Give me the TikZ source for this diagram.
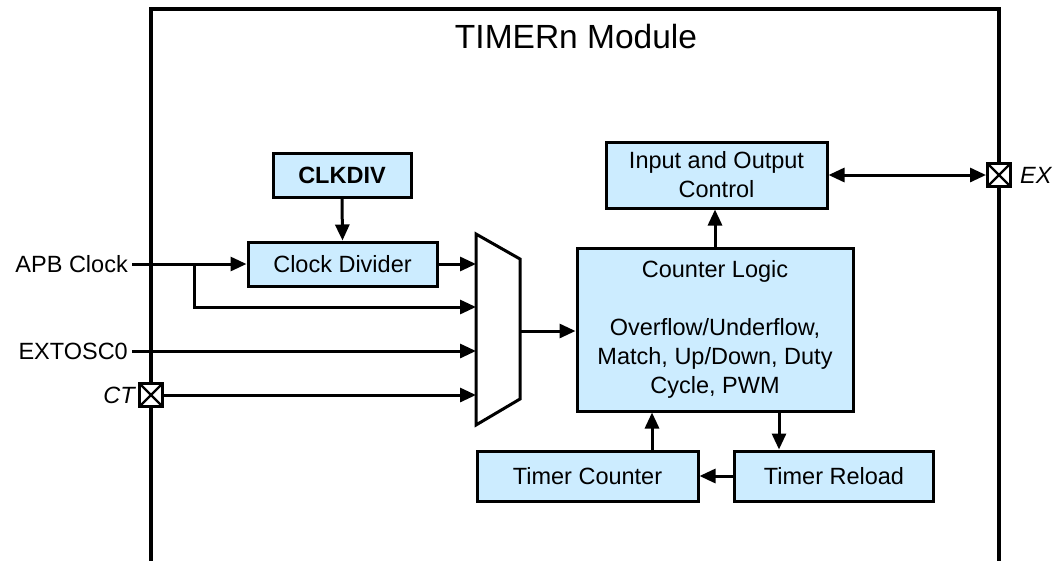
\documentclass[tikz,border=0pt]{standalone}
\usepackage{fontspec}
\setmainfont{Liberation Sans}
\usetikzlibrary{arrows.meta,positioning}
\definecolor{blkfill}{RGB}{204,236,255}

\begin{document}
\begin{tikzpicture}[x=1pt, y=-1pt,
        font=\fontsize{23.5}{29}\selectfont,
        blk/.style={draw, rectangle, fill=blkfill, line width=3pt, align=center, inner sep=0pt},
        arr/.style={-{Triangle[length=16pt, width=14pt]}, line width=3pt},
        pin/.style={draw, rectangle, fill=white, line width=3pt, minimum size=23pt, inner sep=0pt,
            path picture={\draw[line width=2.2pt] (path picture bounding box.north west) -- (path picture bounding box.south east)
                (path picture bounding box.north east) -- (path picture bounding box.south west);}}]
        \useasboundingbox (0,0) rectangle (1054,560);

        % module frame
        \draw[line width=3.2pt] (151,565) -- (151,9) -- (999,9) -- (999,565);
        \node (title) at (576,37) {\fontsize{33.5}{38}\selectfont TIMERn Module};

        % blocks
        \node[blk, minimum width=138pt, minimum height=44pt] (clkdiv) at (342,175) {\textbf{CLKDIV}};
        \node[blk, minimum width=189pt, minimum height=44pt] (clockdiv) at (342.5,264) {Clock Divider};
        \node[blk, minimum width=221pt, minimum height=66pt] (iocontrol) at (716.5,175) {Input and Output\\Control};
        \node[blk, minimum width=276pt, minimum height=163pt] (counter) at (715,329.5)
            {Counter Logic\\[29pt]Overflow/Underflow,\\Match, Up/Down, Duty\\Cycle, PWM};
        \node[blk, minimum width=221pt, minimum height=50pt] (tcounter) at (587.5,476) {Timer Counter};
        \node[blk, minimum width=199pt, minimum height=50pt] (treload) at (834,476) {Timer Reload};

        % mux
        \draw[line width=3pt, fill=white] (476,234) -- (520,259) -- (520,399) -- (476,425) -- cycle;
        \coordinate (muxa) at (476,264);
        \coordinate (muxb) at (476,307);
        \coordinate (muxc) at (476,351);
        \coordinate (muxd) at (476,395);
        \coordinate (muxo) at (520,331);

        % inputs and pins
        \node[anchor=east, inner sep=4pt] (apb) at (132,264) {APB Clock};
        \node[anchor=east, inner sep=4pt] (extosc) at (132,351) {EXTOSC0};
        \node[pin] (ctpin) at (151,395) {};
        \node[left=3pt of ctpin, inner sep=0pt] (ct) {\itshape CT};
        \node[pin] (expin) at (999,175) {};
        \node[right=8pt of expin, inner sep=0pt] (ex) {\itshape EX};
        \coordinate (split) at (194,264);

        % connections
        \draw[arr] (apb.east) -- (clockdiv.west);
        \draw[arr] (split) |- (muxb);
        \draw[arr] (clkdiv.south) -- (clockdiv.north);
        \draw[arr] (clockdiv.east) -- (muxa);
        \draw[arr] (extosc.east) -- (muxc);
        \draw[arr] (ctpin.east) -- (muxd);
        \draw[arr] (muxo) -- (counter.west |- muxo);
        \draw[arr] (counter.north) -- (counter.north |- iocontrol.south);
        \draw[{Triangle[length=16pt, width=14pt]}-{Triangle[length=16pt, width=14pt]}, line width=3pt] (iocontrol.east) -- (expin.west);
        \draw[arr] ([xshift=64.5pt]tcounter.north) -- ([xshift=64.5pt]tcounter.north |- counter.south);
        \draw[arr] ([xshift=-55pt]treload.north |- counter.south) -- ([xshift=-55pt]treload.north);
        \draw[arr] (treload.west) -- (tcounter.east);
    \end{tikzpicture}
\end{document}
